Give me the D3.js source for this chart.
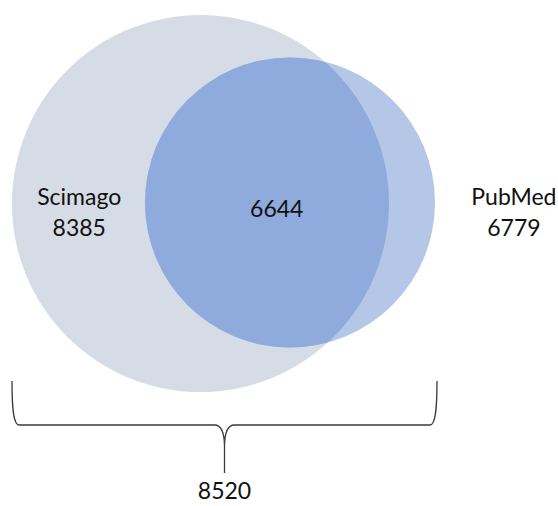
<!DOCTYPE html>
<html>
<head>
<meta charset="utf-8">
<script src="https://cdn.jsdelivr.net/npm/d3@7"></script>
<style>
  html, body { margin: 0; padding: 0; background: #fff; }
  svg { display: block; }
</style>
</head>
<body>
<div id="chart"></div>
<script>
// data
const setNames = ["Scimago", "PubMed"];
const setSizes = [8385, 6779];
const overlapSize = 6644;
const unionSize = 8520;

const width = 558, height = 506;

// layout of the diagram, in a 0..100 style space mapped by scales
const x = d3.scaleLinear().domain([0, 100]).range([0, width]);
const y = d3.scaleLinear().domain([0, 100]).range([0, height]);

const circles = [
  {name: setNames[0], size: setSizes[0], cx: 35.93, cy: 40.22, r: 188.5, fill: "#d6dce5", lx: 14.2, ly: 40.5},
  {name: setNames[1], size: setSizes[1], cx: 51.97, cy: 40.02, r: 145, fill: "#b4c7e7", lx: 92.1, ly: 40.5}
];

const svg = d3.select("#chart").append("svg")
  .attr("width", width)
  .attr("height", height);

const defs = svg.append("defs");
defs.append("clipPath").attr("id", "clipBig")
  .append("circle")
  .attr("cx", x(circles[0].cx))
  .attr("cy", y(circles[0].cy))
  .attr("r", circles[0].r);

svg.append("g")
  .selectAll("circle")
  .data(circles)
  .join("circle")
    .attr("cx", d => x(d.cx))
    .attr("cy", d => y(d.cy))
    .attr("r", d => d.r)
    .attr("fill", d => d.fill);

// overlap region
svg.append("circle")
  .attr("clip-path", "url(#clipBig)")
  .attr("cx", x(circles[1].cx))
  .attr("cy", y(circles[1].cy))
  .attr("r", circles[1].r)
  .attr("fill", "#8faadc");

const fontFam = "Lato, 'Open Sans', sans-serif";

// set labels
const labels = svg.append("g")
  .attr("font-family", fontFam)
  .attr("font-size", 23)
  .attr("fill", "#111")
  .attr("text-anchor", "middle");

circles.forEach(d => {
  const t = labels.append("text")
    .attr("x", x(d.lx))
    .attr("y", y(d.ly));
  t.append("tspan").attr("x", x(d.lx)).text(d.name);
  t.append("tspan").attr("x", x(d.lx)).attr("dy", 31).text(d.size);
});

labels.append("text")
  .attr("x", x(49.6))
  .attr("y", y(42.9))
  .text(overlapSize);

// brace under the diagram
const bx0 = x(circles[0].cx) - circles[0].r;
const bx1 = x(circles[1].cx) + circles[1].r + 2;
const by0 = 381, by1 = 425, tipY = 473;
const mid = (bx0 + bx1) / 2;

const p = d3.path();
p.moveTo(bx0, by0);
p.bezierCurveTo(bx0, by1 - 20, bx0 + 1, by1, bx0 + 7, by1);
p.lineTo(mid - 10, by1);
p.bezierCurveTo(mid - 3, by1, mid, by1 + 8, mid, by1 + 22);
p.lineTo(mid, tipY);
p.moveTo(mid, by1 + 22);
p.bezierCurveTo(mid, by1 + 8, mid + 3, by1, mid + 10, by1);
p.lineTo(bx1 - 7, by1);
p.bezierCurveTo(bx1 - 1, by1, bx1, by1 - 20, bx1, by0);

svg.append("path")
  .attr("d", p.toString())
  .attr("fill", "none")
  .attr("stroke", "#3a3a3a")
  .attr("stroke-width", 1.3);

labels.append("text")
  .attr("x", mid)
  .attr("y", 499)
  .text(unionSize);
</script>
</body>
</html>
